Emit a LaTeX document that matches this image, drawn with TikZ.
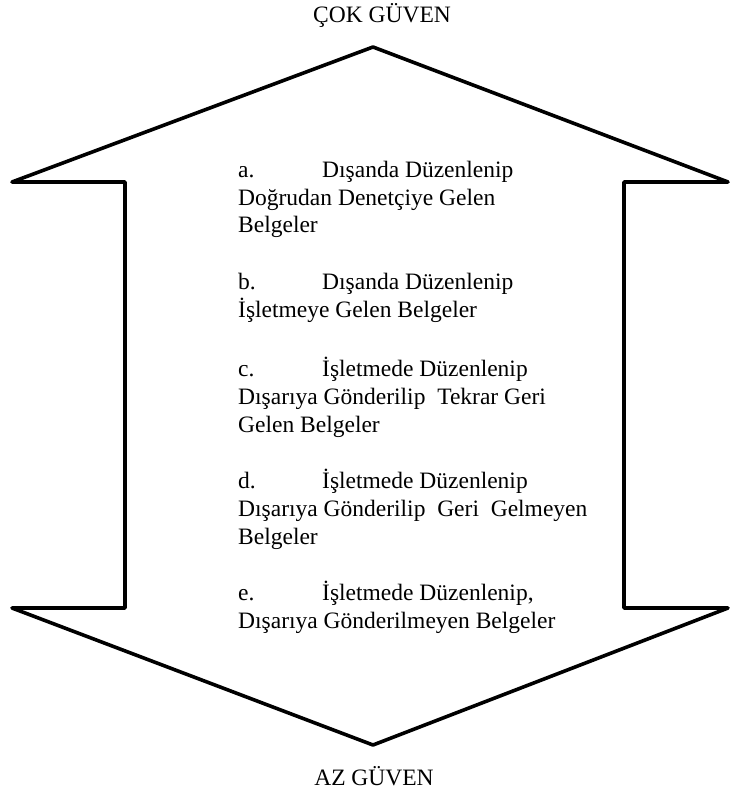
\documentclass[tikz,border=0pt]{standalone}
\usepackage{fontspec}
\setmainfont{Liberation Serif}
\begin{document}
\begin{tikzpicture}[x=1pt,y=-1pt,
  arrowshape/.style={draw=black,line width=3.6pt,line join=round},
  item/.style={anchor=base west,inner sep=0pt,align=left,font=\fontsize{23.5}{27.6}\selectfont},
  title/.style={anchor=base,inner sep=0pt,font=\fontsize{23.5}{26}\selectfont}]
\useasboundingbox (0,0) rectangle (730,794);
\draw[arrowshape] (373,47) -- (728,182) -- (624,182) -- (624,608) -- (728,608)
  -- (373,745) -- (12,608) -- (125,608) -- (125,182) -- (12,182) -- cycle;
\node[title] (top) at (382,23) {ÇOK GÜVEN};
\node[title] (bot) at (374,785) {AZ GÜVEN};
\node[item] (a) at (238,233) {\makebox[84pt][l]{a.}Dışanda Düzenlenip\\Doğrudan Denetçiye Gelen\\Belgeler};
\node[item] (b) at (238,317) {\makebox[84pt][l]{b.}Dışanda Düzenlenip\\İşletmeye Gelen Belgeler};
\node[item] (c) at (238,432) {\makebox[84pt][l]{c.}İşletmede Düzenlenip\\Dışarıya Gönderilip\ \ Tekrar Geri\\Gelen Belgeler};
\node[item] (d) at (238,544) {\makebox[84pt][l]{d.}İşletmede Düzenlenip\\Dışarıya Gönderilip\ \ Geri\ \ Gelmeyen\\Belgeler};
\node[item] (e) at (238,628) {\makebox[84pt][l]{e.}İşletmede Düzenlenip,\\Dışarıya Gönderilmeyen Belgeler};
\end{tikzpicture}
\end{document}
